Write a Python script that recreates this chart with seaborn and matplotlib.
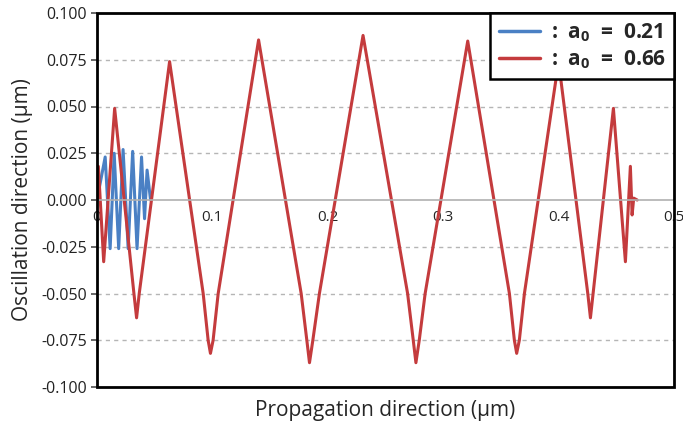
import numpy as np
import pandas as pd
import matplotlib
matplotlib.use("Agg")
import matplotlib.pyplot as plt
import seaborn as sns
from matplotlib.patches import Rectangle

# electron trajectory (um)
blue_x = [0.0, 0.0071, 0.0114, 0.0149, 0.0188, 0.0226, 0.0270, 0.0309, 0.0347, 0.0386, 0.0412, 0.0434, 0.0464]
blue_y = [0.0, 0.023, -0.026, 0.025, -0.026, 0.027, -0.026, 0.026, -0.026, 0.023, -0.010, 0.016, 0.0]

red_x = [0.0, 0.0012, 0.0058, 0.0153, 0.0320, 0.0343, 0.0366, 0.0629, 0.0920, 0.0963, 0.0983,
         0.1006, 0.1050, 0.1400, 0.1769, 0.1818, 0.1841, 0.1870, 0.1927, 0.2305, 0.2691, 0.2740,
         0.2763, 0.2792, 0.2843, 0.3212, 0.3573, 0.3616, 0.3636, 0.3659, 0.3703, 0.3999, 0.4252,
         0.4275, 0.4298, 0.4474, 0.4578, 0.4621, 0.4636, 0.4650, 0.4680]
red_y = [0.0, 0.018, -0.033, 0.049, -0.050, -0.063, -0.050, 0.074, -0.050, -0.075, -0.082,
         -0.075, -0.050, 0.0856, -0.050, -0.075, -0.087, -0.075, -0.050, 0.088, -0.050, -0.075,
         -0.087, -0.075, -0.050, 0.085, -0.050, -0.075, -0.082, -0.075, -0.050, 0.074, -0.050,
         -0.063, -0.050, 0.049, -0.033, 0.018, -0.008, 0.001, 0.0]

labels = [r":  $\mathbf{a_0}$  =  0.21", r":  $\mathbf{a_0}$  =  0.66"]
colors = ["#4a80c4", "#c43b3d"]

x_ticks = [0.0, 0.1, 0.2, 0.3, 0.4, 0.5]
x_ticklabels = ["0", "0.1", "0.2", "0.3", "0.4", "0.5"]
y_ticks = [-0.100, -0.075, -0.050, -0.025, 0.000, 0.025, 0.050, 0.075, 0.100]

df = pd.concat([
    pd.DataFrame({"x": blue_x, "y": blue_y, "series": labels[0]}),
    pd.DataFrame({"x": red_x, "y": red_y, "series": labels[1]}),
], ignore_index=True)

sns.set_theme(style="white")
plt.rcParams["font.family"] = ["Open Sans", "DejaVu Sans"]
plt.rcParams["axes.unicode_minus"] = False
plt.rcParams["mathtext.fontset"] = "custom"
plt.rcParams["mathtext.rm"] = "Open Sans"
plt.rcParams["mathtext.bf"] = "Open Sans:bold"

fig = plt.figure(figsize=(6.83, 4.26), dpi=100)
ax = fig.add_axes([0.142, 0.0915, 0.845, 0.878])

sns.lineplot(data=df, x="x", y="y", hue="series", palette=colors, sort=False,
             estimator=None, linewidth=2.2, ax=ax)

ax.set_xlim(0, 0.5)
ax.set_ylim(-0.1, 0.1)
ax.set_yticks(y_ticks)
ax.set_yticklabels([f"{v:.3f}" for v in y_ticks], fontsize=11.5, color="#222222")
ax.set_xticks(x_ticks)
ax.set_xticklabels(x_ticklabels, fontsize=11.5, color="#333333")

# zero line acts as the x axis
for s in ["top", "left", "right"]:
    ax.spines[s].set_visible(False)
ax.spines["bottom"].set_position(("data", 0))
ax.spines["bottom"].set_color("#b0b0b0")
ax.spines["bottom"].set_linewidth(1.2)
ax.tick_params(axis="x", direction="inout", length=4, color="#b0b0b0", pad=5)
ax.tick_params(axis="y", direction="out", length=4, color="#555555", left=True, pad=3)

for v in y_ticks:
    if v != 0:
        ax.axhline(v, color="#b5b5b5", linestyle=(0, (3, 3)), linewidth=1, zorder=0)

ax.add_patch(Rectangle((0, 0), 1, 1, transform=ax.transAxes, fill=False,
                       edgecolor="black", linewidth=2, clip_on=False, zorder=5))

ax.set_xlabel("Propagation direction (μm)", fontsize=15)
ax.xaxis.set_label_coords(0.5, -0.035)
ax.set_ylabel("Oscillation direction (μm)", fontsize=15, labelpad=6)

leg = ax.legend(loc="upper right", borderaxespad=0, fancybox=False, framealpha=1,
                edgecolor="black", handlelength=2.0, handletextpad=0.5,
                borderpad=0.4, labelspacing=0.2, prop={"weight": "bold", "size": 15})
leg.get_frame().set_linewidth(1.8)
leg.set_zorder(6)
for line in leg.get_lines():
    line.set_linewidth(2.5)

fig.savefig("out.png", dpi=100)
